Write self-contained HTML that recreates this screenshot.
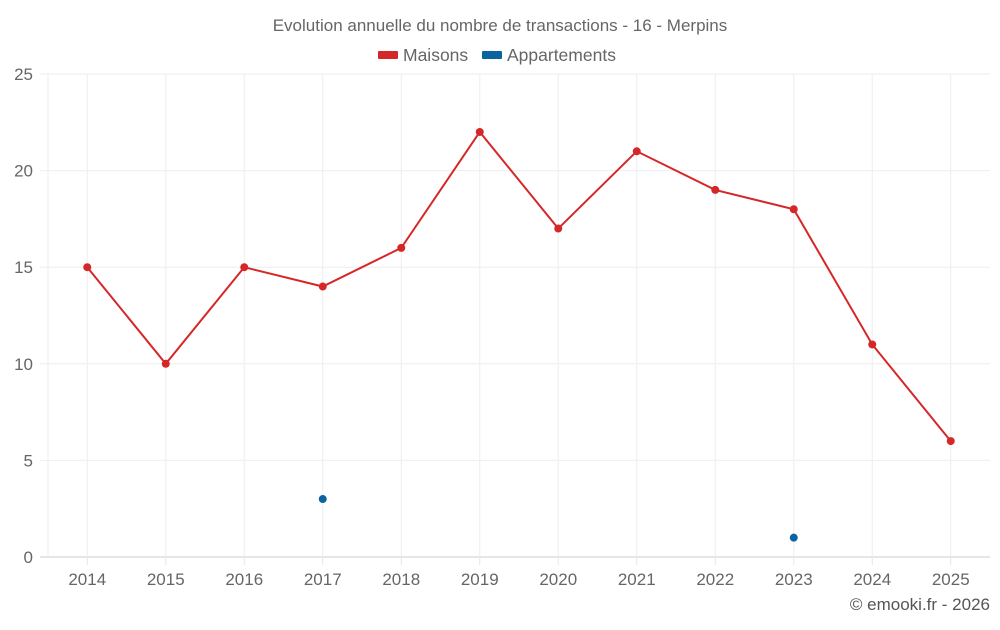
<!DOCTYPE html>
<html><head><meta charset="utf-8"><style>
body{margin:0;background:#fff;font-family:"Liberation Sans",sans-serif;}
svg text{font-family:"Liberation Sans",sans-serif;}
</style></head><body>
<svg id="c" width="1000" height="625" xmlns="http://www.w3.org/2000/svg"></svg>
<script>
const categories=["2014","2015","2016","2017","2018","2019","2020","2021","2022","2023","2024","2025"];
const maisons=[15,10,15,14,16,22,17,21,19,18,11,6];
const appartements=[null,null,null,3,null,null,null,null,null,1,null,null];
const yTicks=[0,5,10,15,20,25];
const L=48,R=990,T=74,B=557,YMAX=25;
const svg=document.getElementById('c');
const NS="http://www.w3.org/2000/svg";
const bw=(R-L)/categories.length;
const x=i=>L+bw*(i+0.5);
const y=v=>B-(B-T)*v/YMAX;
function mk(t,a,p){const e=document.createElementNS(NS,t);for(const k in a)e.setAttribute(k,a[k]);(p||svg).appendChild(e);return e;}
let t=mk('text',{x:500,y:31,'text-anchor':'middle','font-size':17,fill:'#666'});t.textContent="Evolution annuelle du nombre de transactions - 16 - Merpins";


let lg=mk('g',{});


let g1=mk('g',{},lg);


mk('rect',{x:378,y:51,width:20,height:8,fill:'#d62728',rx:1},g1);
t=mk('text',{x:403,y:61,'font-size':17.5,fill:'#666'},g1);t.textContent="Maisons";
let g2=mk('g',{},lg);


mk('rect',{x:482,y:51,width:20,height:8,fill:'#0a64a0',rx:1},g2);
t=mk('text',{x:507,y:61,'font-size':17.5,fill:'#666'},g2);t.textContent="Appartements";
yTicks.forEach(v=>{
  const l=mk('line',{x1:40,x2:R,y1:y(v),y2:y(v),stroke:v===0?'#ccc':'#eee'});
  
  
  const tx=mk('text',{x:33,y:y(v)+6,'text-anchor':'end','font-size':17,fill:'#666'});tx.textContent=v;
  
  
});
mk('line',{x1:L,x2:L,y1:T,y2:B,stroke:'#eee'});
categories.forEach((c,i)=>{
  const l=mk('line',{x1:x(i),x2:x(i),y1:T,y2:B,stroke:'#eee'});
  
  
  mk('line',{x1:x(i),x2:x(i),y1:B,y2:B+8,stroke:'#e6e6e6'});
  const tx=mk('text',{x:x(i),y:585,'text-anchor':'middle','font-size':17,fill:'#666'});tx.textContent=c;
  
  
});
const p=mk('polyline',{points:maisons.map((v,i)=>x(i)+','+y(v)).join(' '),fill:'none',stroke:'#d62728','stroke-width':2});


maisons.forEach((v,i)=>{
  const c=mk('circle',{cx:x(i),cy:y(v),r:4,fill:'#d62728'});
  
  
});
appartements.forEach((v,i)=>{
  if(v===null)return;
  const c=mk('circle',{cx:x(i),cy:y(v),r:4,fill:'#0a64a0'});
  
  
});
t=mk('text',{x:990,y:610,'text-anchor':'end','font-size':17,fill:'#555'});t.textContent="© emooki.fr - 2026";


</script>
</body></html>
